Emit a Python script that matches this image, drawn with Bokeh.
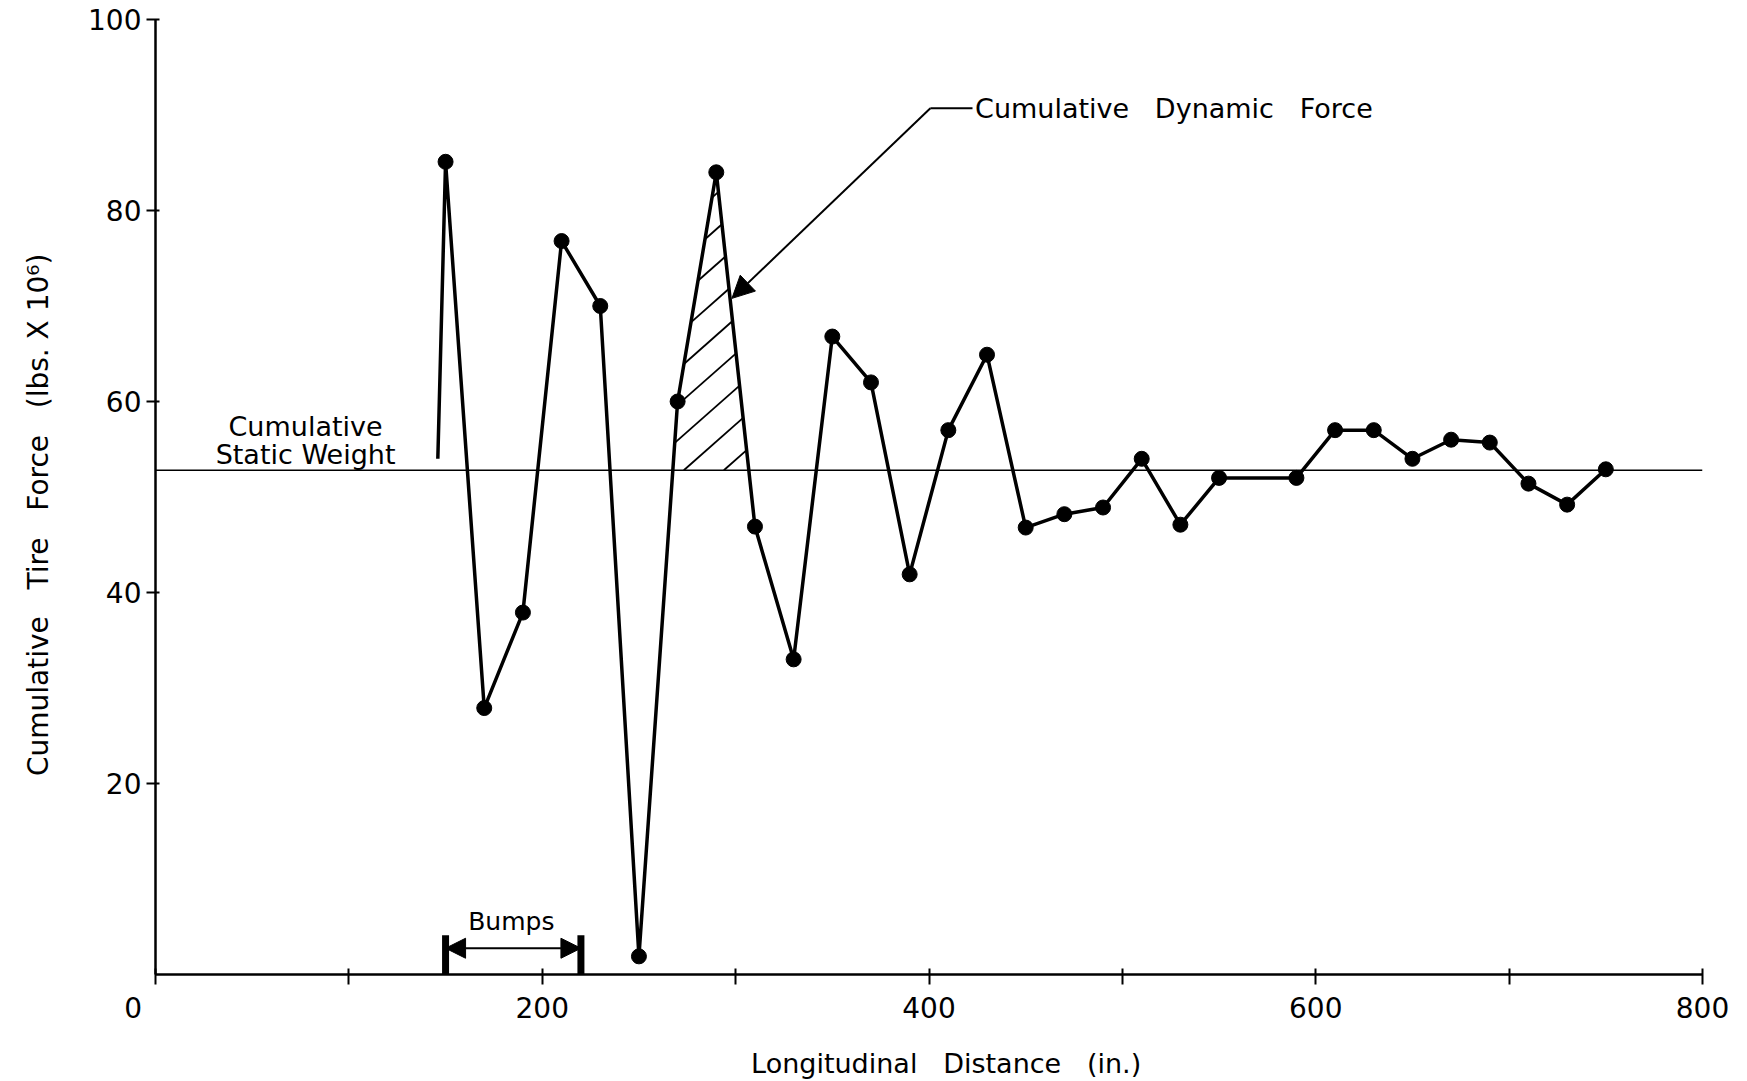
from bokeh.plotting import figure
from bokeh.models import Range1d, FixedTicker, Span, Label, Arrow, NormalHead
from bokeh.embed import file_html
from bokeh.resources import INLINE

# ---------------- data ----------------
distance = [150, 170, 190, 210, 230, 250, 270, 290, 310, 330, 350, 370, 390, 410,
            430, 450, 470, 490, 510, 530, 550, 590, 610, 630, 650, 670, 690, 710,
            730, 750]
force = [85.1, 27.9, 37.9, 76.8, 70.0, 1.9, 60.0, 84.0, 46.9, 33.0, 66.8, 62.0,
         41.9, 57.0, 64.9, 46.8, 48.2, 48.9, 54.0, 47.1, 52.0, 52.0, 57.0, 57.0,
         54.0, 56.0, 55.7, 51.4, 49.2, 52.9]
trace_start_x = [146]
trace_start_y = [54]
static_weight = 52.8
bumps = [150, 220]
hatched_peak = 290
x_ticks = [0, 100, 200, 300, 400, 500, 600, 700, 800]
NB = "\u00a0"
x_tick_labels = {0: "0" + NB * 5, 100: "", 200: "200", 300: "", 400: "400", 500: "",
                 600: "600", 700: "", 800: "800"}
y_ticks = [20, 40, 60, 80, 100]

FONT = "DejaVu Sans"
GAP = NB * 2 + " "

# ---------------- figure ----------------
p = figure(width=1747, height=1081, x_range=Range1d(0, 800), y_range=Range1d(0, 100),
           output_backend="svg", toolbar_location=None,
           min_border_left=155, min_border_right=45, min_border_top=19,
           min_border_bottom=107)
p.outline_line_color = None
p.xgrid.visible = False
p.ygrid.visible = False
p.background_fill_color = "white"

xa = p.xaxis[0]
xa.ticker = FixedTicker(ticks=x_ticks)
xa.major_label_overrides = x_tick_labels
xa.axis_line_width = 2.5
xa.major_tick_line_width = 2
xa.major_tick_in = 6
xa.major_tick_out = 10
xa.minor_tick_line_color = None
xa.major_label_text_font = FONT
xa.major_label_text_font_size = "28px"
xa.major_label_text_color = "black"
xa.major_label_standoff = 7
xa.axis_label = NB * 4 + "Longitudinal" + GAP + "Distance" + GAP + "(in.)"
xa.axis_label_text_font = FONT
xa.axis_label_text_font_size = "27px"
xa.axis_label_text_color = "black"
xa.axis_label_text_font_style = "normal"
xa.axis_label_standoff = 20

ya = p.yaxis[0]
ya.ticker = FixedTicker(ticks=y_ticks)
ya.axis_line_width = 2.5
ya.major_tick_line_width = 2
ya.major_tick_in = 4
ya.major_tick_out = 9
ya.minor_tick_line_color = None
ya.major_label_text_font = FONT
ya.major_label_text_font_size = "28px"
ya.major_label_text_color = "black"
ya.major_label_standoff = 5
ya.axis_label = ("Cumulative" + GAP + "Tire" + GAP + "Force" + GAP + "(lbs. X 10\u2076)"
                 + NB * 4)
ya.axis_label_text_font = FONT
ya.axis_label_text_font_size = "28px"
ya.axis_label_text_color = "black"
ya.axis_label_text_font_style = "normal"
ya.axis_label_standoff = 30

# static weight line
p.add_layout(Span(location=static_weight, dimension="width", line_color="black",
                  line_width=1.5))

# hatched area (cumulative dynamic force above static weight) around the peak
i = distance.index(hatched_peak)
l = i
while force[l - 1] >= static_weight:
    l -= 1
r = i
while force[r + 1] >= static_weight:
    r += 1


def cross(a, b):
    x1, y1 = distance[a], force[a]
    x2, y2 = distance[b], force[b]
    return x1 + (static_weight - y1) * (x2 - x1) / (y2 - y1)


poly = list(zip([cross(l - 1, l)] + distance[l:r + 1] + [cross(r, r + 1)],
                [static_weight] + force[l:r + 1] + [static_weight]))
poly.append(poly[0])

# hatch lines: "/" at ~42 deg on screen, 40 px apart horizontally
hatch_slope = 0.179          # force units per inch
hatch_step = 20.7            # inches between hatch lines along the base
hatch_phase = 273.2
hx0, hy0, hx1, hy1 = [], [], [], []
k = -12
while k <= 4:
    xb = hatch_phase + k * hatch_step
    pts = []
    for (ax, ay), (bx, by) in zip(poly[:-1], poly[1:]):
        fa = ay - (static_weight + hatch_slope * (ax - xb))
        fb = by - (static_weight + hatch_slope * (bx - xb))
        if fa == fb or fa * fb > 0:
            continue
        t = fa / (fa - fb)
        pts.append((ax + t * (bx - ax), ay + t * (by - ay)))
    if len(pts) >= 2:
        pts.sort()
        (sx, sy), (ex, ey) = pts[0], pts[-1]
        if ex - sx > 0.5:
            hx0.append(sx); hy0.append(sy); hx1.append(ex); hy1.append(ey)
    k += 1
p.segment(x0=hx0, y0=hy0, x1=hx1, y1=hy1, line_color="black", line_width=1.8)

# main trace
p.line(trace_start_x + distance, trace_start_y + force, line_color="black",
       line_width=3.5, line_join="round")
p.scatter(distance, force, size=15, color="black")

# annotations
text_kw = dict(text_font=FONT, text_font_size="27px", text_color="black",
               text_baseline="middle")
p.add_layout(Label(x=77.6, y=57.4, text="Cumulative", text_align="center", **text_kw))
p.add_layout(Label(x=77.6, y=54.5, text="Static Weight", text_align="center", **text_kw))
p.add_layout(Label(x=423.8, y=90.7, text="Cumulative" + GAP + "Dynamic" + GAP + "Force",
                   text_align="left", **text_kw))
p.add_layout(Arrow(x_start=422.5, y_start=90.7, x_end=400.7, y_end=90.7, end=None,
                   line_width=2, line_color="black"))
p.add_layout(Arrow(x_start=400.7, y_start=90.7, x_end=298.1, y_end=70.8,
                   end=NormalHead(size=22, fill_color="black", line_color="black"),
                   line_width=2, line_color="black"))

# bumps
p.segment(x0=bumps, y0=[0, 0], x1=bumps, y1=[4.1, 4.1], line_width=7, line_color="black")
p.add_layout(Arrow(x_start=bumps[0], y_start=2.75, x_end=bumps[1], y_end=2.75,
                   start=NormalHead(size=20, fill_color="black", line_color="black"),
                   end=NormalHead(size=20, fill_color="black", line_color="black"),
                   line_width=2, line_color="black"))
p.add_layout(Label(x=sum(bumps) / 2 - 1, y=5.6, text="Bumps", text_align="center",
                   text_font=FONT, text_font_size="25px", text_color="black",
                   text_baseline="middle"))

open("out.html", "w").write(file_html(p, INLINE))
